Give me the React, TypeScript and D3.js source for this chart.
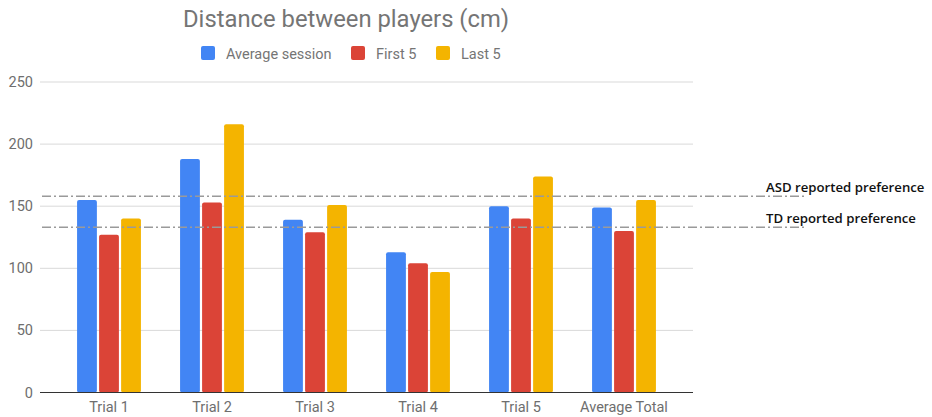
import React from "react";
import * as d3 from "d3";

const categories = ["Trial 1", "Trial 2", "Trial 3", "Trial 4", "Trial 5", "Average Total"];
const seriesNames = ["Average session", "First 5", "Last 5"];
const averageSession = [155, 188, 139, 113, 150, 149];
const first5 = [127, 153, 129, 104, 140, 130];
const last5 = [140, 216, 151, 97, 174, 155];
const seriesColors = ["#4285F4", "#DB4437", "#F4B400"];
const yTicks = [0, 50, 100, 150, 200, 250];
const referenceLines = [
  { label: "ASD reported preference", value: 158 },
  { label: "TD reported preference", value: 133 },
];

const W = 932;
const H = 417;

export default function App() {
  const series = [averageSession, first5, last5];

  const x = d3.scaleBand<string>().domain(categories).range([57.5, 675.5]).paddingInner(0.38).paddingOuter(0.19);
  const xInner = d3.scaleBand<string>().domain(seriesNames).range([0, x.bandwidth()]).paddingInner(0.1);
  const y = d3.scaleLinear().domain([0, 250]).range([392.5, 82]);

  const plotLeft = 40;
  const plotRight = 693;
  const font = "Roboto, 'Noto Sans', sans-serif";

  return (
    <svg
      width={W}
      height={H}
      style={{ position: "absolute", left: 0, top: 0, background: "#fff" }}
      fontFamily={font}
    >
      {/* title */}
      <text x={183} y={27} fontSize={23.8} fill="#757575">
        Distance between players (cm)
      </text>

      {/* legend */}
      {(() => {
        const items = [
          { x: 201, tx: 226 },
          { x: 351, tx: 376 },
          { x: 436, tx: 461 },
        ];
        return seriesNames.map((name, i) => (
          <g key={name}>
            <rect x={items[i].x} y={46} width={14} height={14} rx={2} fill={seriesColors[i]} />
            <text x={items[i].tx} y={58.5} fontSize={14.5} fill="#757575">
              {name}
            </text>
          </g>
        ));
      })()}

      {/* gridlines and y labels */}
      {yTicks.map((t) => (
        <g key={t}>
          {t !== 0 && (
            <line x1={plotLeft} x2={plotRight} y1={y(t)} y2={y(t)} stroke="#d9d9d9" strokeWidth={1} />
          )}
          <text x={33} y={y(t) + 5} fontSize={14.5} fill="#6e6e6e" textAnchor="end">
            {t}
          </text>
        </g>
      ))}

      {/* bars */}
      {categories.map((c, ci) => (
        <g key={c} transform={`translate(${x(c)},0)`}>
          {seriesNames.map((s, si) => {
            const v = series[si][ci];
            return (
              <rect
                key={s}
                x={xInner(s)}
                y={y(v)}
                width={xInner.bandwidth()}
                height={y(0) - y(v)}
                rx={2}
                fill={seriesColors[si]}
              />
            );
          })}
        </g>
      ))}

      {/* baseline */}
      <line x1={plotLeft} x2={plotRight} y1={y(0)} y2={y(0)} stroke="#333" strokeWidth={1.2} />

      {/* x labels */}
      {categories.map((c) => (
        <text key={c} x={(x(c) ?? 0) + x.bandwidth() / 2} y={411.5} fontSize={14.5} fill="#6e6e6e" textAnchor="middle">
          {c}
        </text>
      ))}

      {/* reference lines */}
      {referenceLines.map((r) => (
        <g key={r.label}>
          <line
            x1={42}
            x2={807}
            y1={y(r.value)}
            y2={y(r.value)}
            stroke="#9a9a9a"
            strokeWidth={1.5}
            strokeDasharray="9 3 2 3"
          />
          <text
            x={766}
            y={y(r.value) - 4.5}
            fontSize={13.2}
            fontWeight={600}
            fill="#111"
            fontFamily="'Open Sans', 'Noto Sans', sans-serif"
          >
            {r.label}
          </text>
        </g>
      ))}
    </svg>
  );
}
